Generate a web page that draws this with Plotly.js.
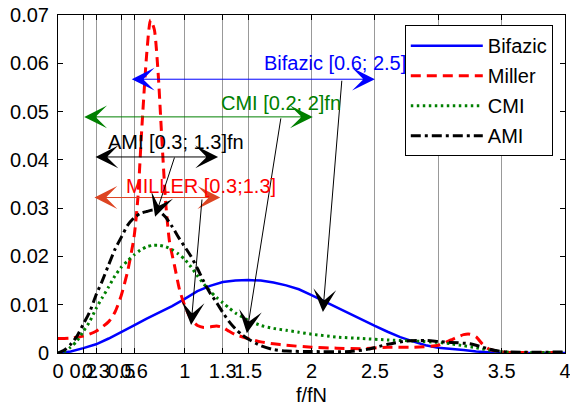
<!DOCTYPE html>
<html><head><meta charset="utf-8">
<script src="https://cdn.plot.ly/plotly-3.0.1.min.js"></script>
<style>html,body{margin:0;padding:0;background:#fff}#chart{width:570px;height:406px}</style>
</head><body><div id="chart"></div>
<script>
// Bifazic (blue solid)
var bifX = [0,0.1,0.2,0.3,0.4,0.5,0.6,0.7,0.8,0.9,1.0,1.1,1.2,1.3,1.4,1.5,1.6,1.7,1.8,1.9,2.0,2.1,2.2,2.3,2.4,2.5,2.6,2.7,2.8,2.9,3.0,3.1,3.2,3.3,3.4,3.5,4.0];
var bifY = [0,0.0003,0.0010,0.0018,0.0030,0.0043,0.0057,0.0071,0.0084,0.0097,0.0112,0.0128,0.0139,0.0147,0.0150,0.0151,0.0150,0.0146,0.0140,0.0132,0.0120,0.0107,0.0095,0.0082,0.0069,0.0056,0.0044,0.0033,0.0024,0.0016,0.0011,0.0009,0.0006,0.0003,0.0001,0,0];
// Miller (red dashed)
var milX = [0,0.1,0.2,0.3,0.4,0.45,0.5,0.55,0.6,0.63,0.66,0.7,0.73,0.76,0.79,0.82,0.85,0.88,0.92,0.96,1.0,1.05,1.1,1.15,1.2,1.25,1.3,1.35,1.4,1.5,1.6,1.7,1.8,2.0,2.2,2.4,2.6,2.8,3.0,3.1,3.2,3.25,3.3,3.35,3.4,3.5,3.6,4.0];
var milY = [0.0030,0.0031,0.0035,0.0045,0.0065,0.0085,0.0120,0.0170,0.0240,0.0320,0.0460,0.0620,0.0690,0.0670,0.0580,0.0440,0.0310,0.0230,0.0180,0.0130,0.0098,0.0070,0.0057,0.0053,0.0054,0.0056,0.0053,0.0045,0.0038,0.0030,0.0023,0.0019,0.0016,0.0012,0.0010,0.0009,0.0012,0.0012,0.0016,0.0027,0.0038,0.0039,0.0033,0.0018,0.0008,0.0002,0.0001,0.0001];
// CMI (green dotted)
var cmiX = [0,0.05,0.1,0.15,0.2,0.25,0.3,0.35,0.4,0.45,0.5,0.55,0.6,0.65,0.7,0.75,0.8,0.85,0.9,0.95,1.0,1.05,1.1,1.15,1.2,1.25,1.3,1.35,1.4,1.5,1.6,1.7,1.8,1.9,2.0,2.2,2.4,2.6,2.8,3.0,3.1,3.2,3.3,3.4,3.5,3.6,4.0];
var cmiY = [0,0.0003,0.0012,0.0025,0.0045,0.0065,0.0092,0.0115,0.0137,0.0160,0.0178,0.0191,0.0203,0.0213,0.0220,0.0223,0.0223,0.0220,0.0214,0.0205,0.0194,0.0178,0.0160,0.0143,0.0128,0.0115,0.0104,0.0093,0.0083,0.0068,0.0057,0.0051,0.0047,0.0043,0.0039,0.0033,0.0030,0.0027,0.0025,0.0022,0.0019,0.0015,0.0011,0.0006,0.0003,0.0001,0.0001];
// AMI (black dash-dot)
var amiX = [0,0.05,0.1,0.15,0.2,0.25,0.3,0.35,0.4,0.45,0.5,0.55,0.6,0.65,0.7,0.75,0.8,0.85,0.9,0.95,1.0,1.05,1.1,1.15,1.2,1.25,1.3,1.35,1.4,1.45,1.5,1.6,1.7,1.8,2.0,2.3,2.45,2.6,2.75,2.9,3.0,3.1,3.25,3.35,3.45,3.55,4.0];
var amiY = [0,0.0006,0.0018,0.0035,0.0060,0.0085,0.0120,0.0150,0.0183,0.0215,0.0240,0.0265,0.0280,0.0289,0.0293,0.0296,0.0293,0.0281,0.0262,0.0240,0.0220,0.0200,0.0175,0.0148,0.0124,0.0105,0.0084,0.0065,0.0050,0.0038,0.0029,0.0015,0.0007,0.0004,0.0003,0.0003,0.0008,0.0018,0.0025,0.0026,0.0024,0.0022,0.0019,0.0012,0.0005,0.0002,0.0002];

var xTicks = [0,0.2,0.3,0.5,0.6,1,1.3,1.5,2,2.5,3,3.5,4];
var xTickText = ['0','0.2','0.3','0.5','0.6','1','1.3','1.5','2','2.5','3','3.5','4'];
var yTicks = [0,0.01,0.02,0.03,0.04,0.05,0.06,0.07];
var yTickText = ['0','0.01','0.02','0.03','0.04','0.05','0.06','0.07'];

// interval arrows: [label, from, to, y, color]
var intervals = [
  ['Bifazic', 0.57, 2.5, 0.0567, '#0000ff'],
  ['CMI', 0.195, 2.01, 0.0489, '#008000'],
  ['AMI', 0.284, 1.263, 0.0406, '#000000'],
  ['Miller', 0.276, 1.28, 0.0322, '#dd4422']
];
// labels: [text, x, y, color]
var labels = [
  ['Bifazic [0.6; 2.5]', 2.186, 0.0600, '#0000ff'],
  ['CMI [0.2; 2]fn', 1.76, 0.0518, '#008000'],
  ['AMI [0.3; 1.3]fn', 0.927, 0.0436, '#000000'],
  ['MILLER [0.3;1.3]', 1.125, 0.0345, '#ff0000']
];
// pointers: [tailX, tailY, headX, headY]
var pointers = [
  [2.24, 0.0567, 2.09, 0.0085],
  [1.76, 0.0489, 1.49, 0.0041],
  [0.923, 0.0408, 0.766, 0.0282],
  [1.137, 0.0321, 1.05, 0.0058]
];

var FONT = 'Liberation Sans, Arial, sans-serif';
var traces = [
  {x: bifX, y: bifY, name: 'Bifazic', mode: 'lines', legendgroup: 'a', line: {color: '#0000ff', width: 2.5}},
  {x: milX, y: milY, name: 'Miller', mode: 'lines', legendgroup: 'b', line: {color: '#ff0000', width: 3, dash: '10px,6px', shape: 'spline', smoothing: 0.6}},
  {x: cmiX, y: cmiY, name: 'CMI', mode: 'lines', legendgroup: 'c', line: {color: '#008000', width: 3, dash: '2.5px,3.5px', shape: 'spline', smoothing: 0.6}},
  {x: amiX, y: amiY, name: 'AMI', mode: 'lines', legendgroup: 'd', line: {color: '#000000', width: 3, dash: '10px,4px,3px,4px', shape: 'spline', smoothing: 0.6}}
];

var annotations = [];
intervals.forEach(function (a) {
  annotations.push({x: a[2], y: a[3], ax: a[1], ay: a[3], xref: 'x', yref: 'y', axref: 'x', ayref: 'y',
    text: '', showarrow: true, arrowside: 'end+start', arrowhead: 3, arrowwidth: 1, arrowsize: 3.8,
    arrowcolor: a[4], standoff: 0, startstandoff: 0});
});
pointers.forEach(function (p) {
  annotations.push({x: p[2], y: p[3], ax: p[0], ay: p[1], xref: 'x', yref: 'y', axref: 'x', ayref: 'y',
    text: '', showarrow: true, arrowhead: 3, arrowwidth: 1, arrowsize: 3.8, arrowcolor: '#000000', standoff: 0});
});
labels.forEach(function (l) {
  annotations.push({x: l[1], y: l[2], xref: 'x', yref: 'y', text: l[0], showarrow: false,
    font: {family: FONT, size: 20, color: l[3]}});
});

var layout = {
  width: 570, height: 406,
  margin: {l: 58, r: 5, t: 15, b: 53},
  paper_bgcolor: '#ffffff', plot_bgcolor: '#ffffff',
  font: {family: FONT, size: 20, color: '#000000'},
  showlegend: true,
  legend: {x: 0.684, y: 0.970, xanchor: 'left', yanchor: 'top', bgcolor: '#ffffff',
    bordercolor: '#000000', borderwidth: 1, font: {family: FONT, size: 20}, tracegroupgap: 1, itemwidth: 72},
  xaxis: {range: [0, 4], tickmode: 'array', tickvals: xTicks, ticktext: xTickText,
    showgrid: true, gridcolor: '#999999', gridwidth: 1, zeroline: false,
    showline: true, linecolor: '#000000', linewidth: 1, mirror: 'ticks',
    ticks: 'inside', ticklen: 5, tickcolor: '#000000', tickangle: 0, ticklabeloverflow: 'allow',
    title: {text: 'f/fN', font: {family: FONT, size: 20}, standoff: 12}},
  yaxis: {range: [0, 0.07], tickmode: 'array', tickvals: yTicks, ticktext: yTickText,
    showgrid: false, zeroline: false,
    showline: true, linecolor: '#000000', linewidth: 1, mirror: 'ticks',
    ticks: 'inside', ticklen: 5, tickcolor: '#000000', ticklabelstandoff: 4},
  annotations: annotations
};
Plotly.newPlot('chart', traces, layout, {displayModeBar: false, staticPlot: true});
</script></body></html>
